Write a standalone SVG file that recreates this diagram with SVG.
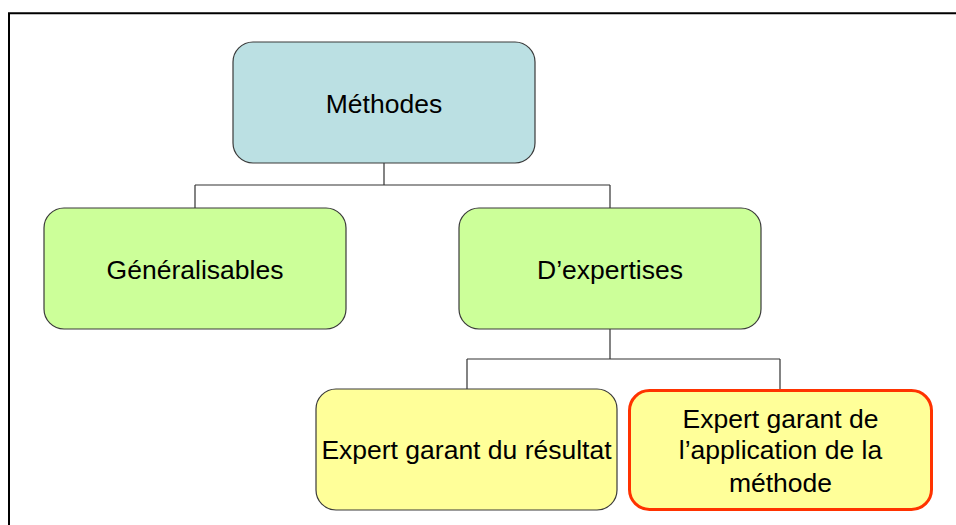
<svg xmlns="http://www.w3.org/2000/svg" width="956" height="525" viewBox="0 0 956 525">
<style>
.node{stroke:#3a3a3a;stroke-width:1.2}
.lbl{font-family:"Liberation Sans",Arial,sans-serif;font-size:26.5px;fill:#000;text-anchor:middle}
.conn{stroke:#333;stroke-width:1.2;fill:none}
</style>
<rect x="0" y="0" width="956" height="525" fill="#fff"/>
<path d="M9 526 V13.3 H957" fill="none" stroke="#000" stroke-width="2"/>
<g id="connectors">
<path class="conn" d="M384 163 V185 M195 185 H610 M195 185 V208 M610 185 V208"/>
<path class="conn" d="M610 329 V359 M467 359 H780 M467 359 V389 M780 359 V389"/>
</g>
<g id="methodes">
<rect class="node" x="233" y="42" width="302" height="121" rx="20" fill="#BBE0E3"/>
<text class="lbl" x="384" y="113">Méthodes</text>
</g>
<g id="generalisables">
<rect class="node" x="44" y="208" width="302" height="121" rx="20" fill="#CCFF99"/>
<text class="lbl" x="195" y="279">Généralisables</text>
</g>
<g id="dexpertises">
<rect class="node" x="459" y="208" width="302" height="121" rx="20" fill="#CCFF99"/>
<text class="lbl" x="610" y="279">D’expertises</text>
</g>
<g id="resultat">
<rect class="node" x="316" y="389" width="301" height="121" rx="20" fill="#FFFF99"/>
<text class="lbl" x="466.5" y="459">Expert garant du résultat</text>
</g>
<g id="application">
<rect x="629.5" y="390.5" width="302" height="119" rx="20" fill="#FFFF99" stroke="#FF3300" stroke-width="3"/>
<text class="lbl" x="780.5" y="428">Expert garant de</text>
<text class="lbl" x="780.5" y="459">l’application de la</text>
<text class="lbl" x="780.5" y="492">méthode</text>
</g>
</svg>
